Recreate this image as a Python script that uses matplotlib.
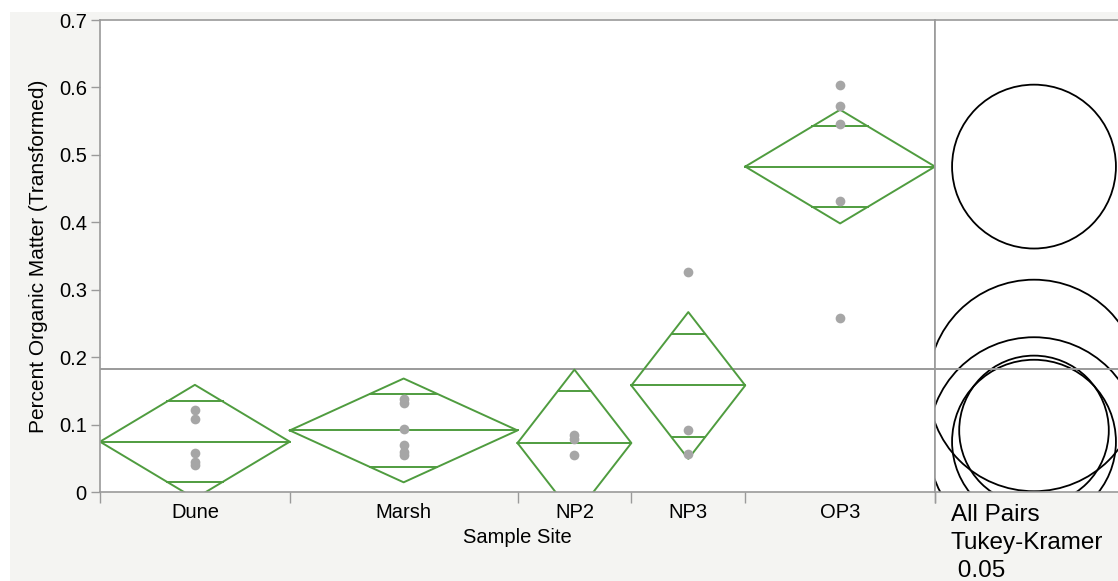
import matplotlib.pyplot as plt
import numpy as np
from matplotlib.patches import Circle, Rectangle

plt.rcParams['font.family'] = ['Liberation Sans', 'DejaVu Sans']

# data
sites = ['Dune', 'Marsh', 'NP2', 'NP3', 'OP3']
dune = [0.121, 0.109, 0.058, 0.045, 0.040]
marsh = [0.138, 0.132, 0.094, 0.070, 0.059, 0.055]
np2 = [0.084, 0.079, 0.055]
np3 = [0.326, 0.092, 0.056]
op3 = [0.604, 0.573, 0.546, 0.432, 0.258]
groups = [dune, marsh, np2, np3, op3]

yticks = [0, 0.1, 0.2, 0.3, 0.4, 0.5, 0.6, 0.7]
ytick_labels = ['0', '0.1', '0.2', '0.3', '0.4', '0.5', '0.6', '0.7']

t_crit = 2.1098   # t(0.975, df=17)
q_crit = 4.30     # studentized range q(0.05, k=5, df=17)

green = '#4f9c3f'
gray_pt = '#a6a6a6'
axis_gray = '#9a9a9a'
fs = 14.5

# stats
n = np.array([len(g) for g in groups])
means = np.array([np.mean(g) for g in groups])
ss = sum(np.sum((np.array(g) - np.mean(g)) ** 2) for g in groups)
dfe = n.sum() - len(groups)
sp = np.sqrt(ss / dfe)
grand = np.mean(np.concatenate([np.array(g) for g in groups]))
bounds = np.concatenate([[0], np.cumsum(n)])
centers = (bounds[:-1] + bounds[1:]) / 2

W, H = 1118, 581
fig = plt.figure(figsize=(W / 100, H / 100), dpi=100, facecolor='#f4f4f2')
fig.add_artist(Rectangle((0, 1 - 12 / H), 1, 12 / H, transform=fig.transFigure,
                         facecolor='white', edgecolor='none', zorder=0))
fig.add_artist(Rectangle((0, 0), 10 / W, 1, transform=fig.transFigure,
                         facecolor='white', edgecolor='none', zorder=0))

left, right, bottom, top = 100, 935, 89, 561
ax = fig.add_axes([left / W, bottom / H, (right - left) / W, (top - bottom) / H])
ax.set_facecolor('white')

for i, g in enumerate(groups):
    L, R, C = bounds[i], bounds[i + 1], centers[i]
    m = means[i]
    h = t_crit * sp / np.sqrt(n[i])
    ax.plot([L, C, R, C, L], [m, m + h, m, m - h, m], color=green, lw=1.4, zorder=2)
    ax.plot([L, R], [m, m], color=green, lw=1.4, zorder=2)
    o = h / np.sqrt(2)
    w = (R - L) / 2 * (1 - 1 / np.sqrt(2))
    for yy in (m + o, m - o):
        ax.plot([C - w, C + w], [yy, yy], color=green, lw=1.4, zorder=2)
    ax.plot([C] * len(g), g, 'o', color=gray_pt, ms=7, mec='none', zorder=3)

ax.axhline(grand, color=axis_gray, lw=1.4, zorder=1)

ax.set_xlim(0, bounds[-1])
ax.set_ylim(0, 0.7)
ax.set_yticks(yticks)
ax.set_yticklabels(ytick_labels)
ax.set_xticks(bounds)
ax.set_xticklabels([])
ax.set_xticks(centers, minor=True)
ax.set_xticklabels(sites, minor=True)
ax.tick_params(axis='x', which='major', length=8, color=axis_gray, width=1)
ax.tick_params(axis='x', which='minor', length=0, pad=8, labelsize=fs)
ax.tick_params(axis='y', length=6.5, color=axis_gray, width=1, pad=3, labelsize=fs)
for s in ax.spines.values():
    s.set_color(axis_gray)
    s.set_linewidth(1.2)
ax.set_xlabel('Sample Site', fontsize=fs, labelpad=4)
ax.set_ylabel('Percent Organic Matter (Transformed)', fontsize=fs + 0.5, labelpad=8)

# comparison circles panel
cw = 198
ax2 = fig.add_axes([right / W, bottom / H, cw / W, (top - bottom) / H])
ax2.set_facecolor('white')
ppu = (top - bottom) / 0.7
half = cw / 2 / ppu
ax2.set_xlim(-half, half)
ax2.set_ylim(0, 0.7)
for i in range(len(groups)):
    r = q_crit / np.sqrt(2) * sp / np.sqrt(n[i])
    ax2.add_patch(Circle((0, means[i]), r, fill=False, edgecolor='black', lw=1.3))
ax2.axhline(grand, color=axis_gray, lw=1.4, zorder=1)
ax2.set_xticks([-half])
ax2.set_xticklabels([])
ax2.set_yticks([])
ax2.tick_params(axis='x', length=8, color=axis_gray, width=1)
for s in ax2.spines.values():
    s.set_color(axis_gray)
    s.set_linewidth(1.2)
ax2.spines['right'].set_visible(False)
ax2.text(0.08, -0.025, 'All Pairs\nTukey-Kramer\n 0.05', transform=ax2.transAxes,
         ha='left', va='top', fontsize=17.5, linespacing=1.36)

fig.savefig('out.png', dpi=100, facecolor=fig.get_facecolor())
